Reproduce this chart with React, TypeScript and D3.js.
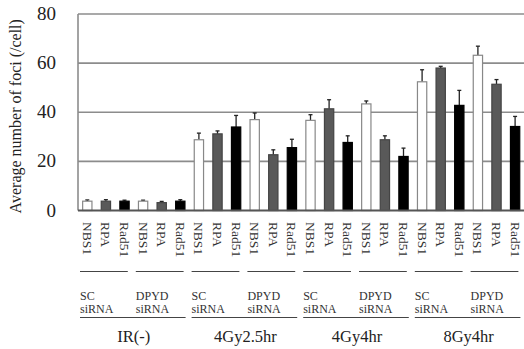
import React from "react";
import * as d3 from "d3";

const conditions = ["IR(-)", "4Gy2.5hr", "4Gy4hr", "8Gy4hr"];
const sirnas = ["SC", "DPYD"];
const proteins = ["NBS1", "RPA", "Rad51"];
// per (condition, siRNA) group, in order: IR SC, IR DPYD, 4Gy2.5 SC, 4Gy2.5 DPYD, 4Gy4 SC, 4Gy4 DPYD, 8Gy SC, 8Gy DPYD
const nbs1Mean = [3.8, 3.8, 28.8, 37.0, 36.7, 43.4, 52.4, 63.2];
const rpaMean = [3.8, 3.2, 31.2, 22.7, 41.4, 28.8, 58.0, 51.4];
const rad51Mean = [3.8, 3.8, 34.0, 25.6, 27.7, 22.0, 42.8, 34.2];
const nbs1Err = [0.5, 0.4, 2.7, 2.7, 2.3, 1.2, 4.9, 3.7];
const rpaErr = [0.6, 0.5, 1.2, 2.0, 3.7, 1.6, 0.7, 1.9];
const rad51Err = [0.4, 0.6, 4.7, 3.4, 2.7, 3.4, 6.1, 4.1];
const yTicks = [0, 20, 40, 60, 80];

const W = 524, H = 349;
const x0 = 78, x1 = 524.4, yTop = 14, yZero = 210.5;
const font = "'Liberation Serif', 'Times New Roman', serif";
const fills: Record<string, string> = { NBS1: "#ffffff", RPA: "#595959", Rad51: "#000000" };
const strokes: Record<string, string> = { NBS1: "#888888", RPA: "#444444", Rad51: "#000000" };

export default function App() {
  const means = [nbs1Mean, rpaMean, rad51Mean];
  const errs = [nbs1Err, rpaErr, rad51Err];
  const bars: { key: string; protein: string; mean: number; err: number; g: number; p: number }[] = [];
  for (let g = 0; g < conditions.length * sirnas.length; g++) {
    proteins.forEach((p, pi) => {
      bars.push({ key: `${g}-${p}`, protein: p, mean: means[pi][g], err: errs[pi][g], g, p: pi });
    });
  }
  const x = d3.scaleBand<string>().domain(bars.map(b => b.key)).range([x0, x1]).paddingInner(0.5).paddingOuter(0.25);
  const y = d3.scaleLinear().domain([0, 80]).range([yZero, yTop]);
  const step = x.step();
  const groupStart = (g: number) => x0 + g * 3 * step;
  const condStart = (c: number) => x0 + c * 6 * step;
  const ts = { fontFamily: font };

  return (
    <svg width={W} height={H} style={{ position: "absolute", left: 0, top: 0, background: "#fff", fontFamily: font }}>
      {yTicks.map(t => (
        <g key={t}>
          {t > 0 && <line x1={x0} x2={W} y1={y(t)} y2={y(t)} stroke="#8c8c8c" strokeWidth={1.6} />}
          <text x={56} y={y(t) + 6} textAnchor="end" fontSize={19} fill="#222" style={ts}>{t}</text>
        </g>
      ))}
      <line x1={x0} x2={x0} y1={yTop} y2={yZero} stroke="#8c8c8c" strokeWidth={1.6} />
      <text transform={`translate(21,${(yTop + yZero) / 2 + 4}) rotate(-90)`} textAnchor="middle" fontSize={16} fill="#222" style={ts}>
        Average number of foci (/cell)
      </text>
      {bars.map(b => {
        const bx = x(b.key)!;
        const bw = x.bandwidth();
        const cx = bx + bw / 2;
        return (
          <g key={b.key}>
            <line x1={cx} x2={cx} y1={y(b.mean)} y2={y(b.mean + b.err)} stroke="#222" strokeWidth={1.3} />
            <line x1={cx - 2} x2={cx + 2} y1={y(b.mean + b.err)} y2={y(b.mean + b.err)} stroke="#222" strokeWidth={1.3} />
            <rect x={bx} y={y(b.mean)} width={bw} height={yZero - y(b.mean)} fill={fills[b.protein]} stroke={strokes[b.protein]} strokeWidth={1.2} />
          </g>
        );
      })}
      <line x1={x0} x2={W} y1={yZero} y2={yZero} stroke="#555" strokeWidth={1.8} />
      {bars.map(b => {
        const cx = x(b.key)! + x.bandwidth() / 2;
        return (
          <text key={"l" + b.key} transform={`translate(${cx - 4.5},222) rotate(90)`} fontSize={13.5} fill="#333" style={ts}>
            {b.protein}
          </text>
        );
      })}
      {d3.range(conditions.length * sirnas.length).map(g => {
        const s = groupStart(g);
        return (
          <g key={"sg" + g}>
            <line x1={s + 2} x2={s + 3 * step - 6} y1={271.5} y2={271.5} stroke="#444" strokeWidth={1.2} />
            <text x={s + 2} y={299.5} fontSize={12} fill="#333" style={ts}>{sirnas[g % 2]}</text>
            <text x={s + 2} y={313.2} fontSize={12} fill="#333" style={ts}>siRNA</text>
          </g>
        );
      })}
      {conditions.map((c, ci) => {
        const s = condStart(ci);
        return (
          <g key={c}>
            <line x1={s + 2} x2={s + 6 * step - 4} y1={317.5} y2={317.5} stroke="#444" strokeWidth={1.2} />
            <text x={s + 3 * step} y={342} textAnchor="middle" fontSize={16.5} fill="#222" style={ts}>{c}</text>
          </g>
        );
      })}
    </svg>
  );
}
